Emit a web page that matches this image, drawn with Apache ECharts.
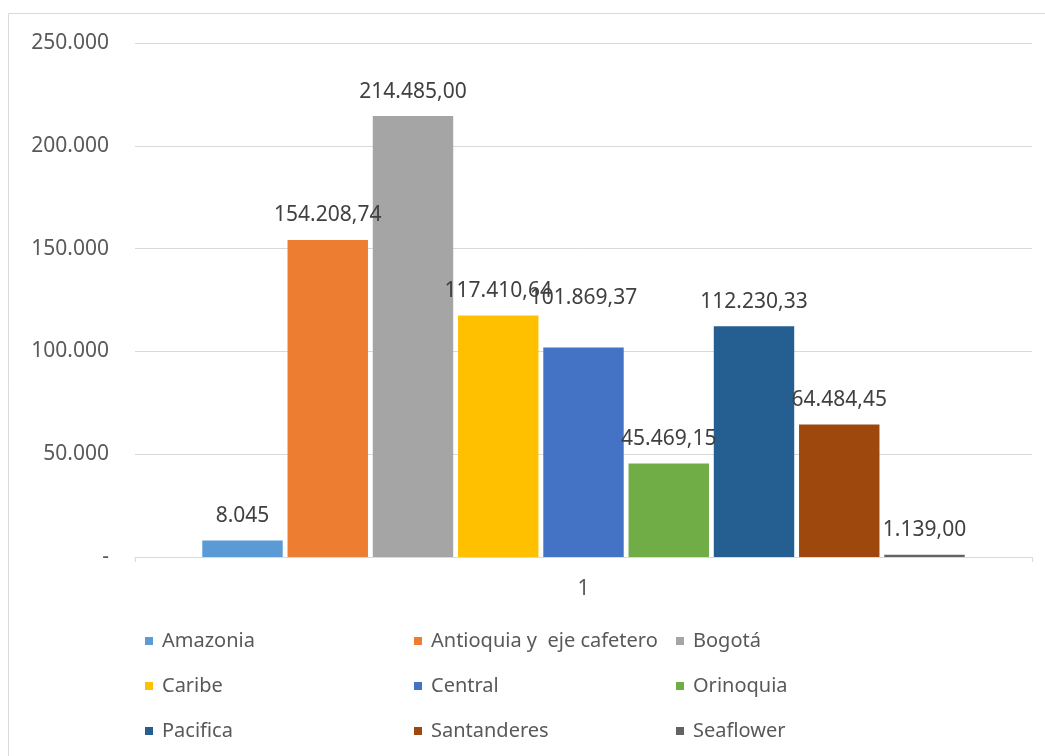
<!DOCTYPE html>
<html><head><meta charset="utf-8">
<script src="https://cdn.jsdelivr.net/npm/echarts@6/dist/echarts.min.js"></script>
<style>html,body{margin:0;padding:0;background:#fff}#c{width:1045px;height:756px}</style>
</head><body><div id="c"></div>
<script>
const categories = ['1'];
const seriesNames = ['Amazonia','Antioquia y  eje cafetero','Bogotá','Caribe','Central','Orinoquia','Pacifica','Santanderes','Seaflower'];
const seriesValues = [8045, 154208.74, 214485.00, 117410.64, 101869.37, 45469.15, 112230.33, 64484.45, 1139.00];
const labelDecimals = [0, 2, 2, 2, 2, 2, 2, 2, 2];
const labelOffsetY = [0, 0, 0, 0, -25, 0, 0, 0, 0];
const colors = ['#5B9BD5','#ED7D31','#A5A5A5','#FFC000','#4472C4','#70AD47','#255E91','#9E480E','#636363'];
const yTicks = [0, 50000, 100000, 150000, 200000, 250000];

const FONT = 'Noto Sans';
function fmt(v, d) {
  const fixed = v.toFixed(d);
  let [ip, dp] = fixed.split('.');
  ip = ip.replace(/\B(?=(\d{3})+(?!\d))/g, '.');
  return dp ? ip + ',' + dp : ip;
}

const series = seriesNames.map((n, i) => ({
  name: n, type: 'bar',
  data: [seriesValues[i]],
  itemStyle: { color: colors[i] },
  barGap: '6%', barCategoryGap: '15%',
  label: {
    show: true, position: 'top', distance: 14,
    offset: [0, labelOffsetY[i]],
    color: '#404040', fontFamily: FONT, fontSize: 21,
    formatter: () => fmt(seriesValues[i], labelDecimals[i])
  }
}));

const legendCols = [[0,3,6],[1,4,7],[2,5,8]];
const legendLeft = [145, 414, 676];
const legends = legendCols.map((col, k) => ({
  left: legendLeft[k], top: 631, orient: 'vertical', padding: 0,
  itemWidth: 8, itemHeight: 8, itemGap: 25,
  icon: 'rect',
  textStyle: { color: '#595959', fontFamily: FONT, fontSize: 20, padding: [0, 0, 0, 4] },
  data: col.map(i => seriesNames[i])
}));

const chart = echarts.init(document.getElementById('c'), null, { renderer: 'canvas' });
chart.setOption({
  animation: false,
  backgroundColor: '#fff',
  graphic: [{ type: 'rect', shape: { x: 8.5, y: 13.5, width: 1100, height: 800 }, style: { fill: 'none', stroke: '#D9D9D9', lineWidth: 1 }, silent: true }],
  legend: legends,
  grid: { left: 135, right: 13, top: 43, bottom: 199 },
  xAxis: {
    type: 'category', data: categories,
    axisLine: { lineStyle: { color: '#D9D9D9', width: 1 } },
    axisTick: { show: true, length: 5, lineStyle: { color: '#D9D9D9' } },
    axisLabel: { color: '#595959', fontFamily: FONT, fontSize: 21, margin: 22 }
  },
  yAxis: {
    type: 'value', min: 0, max: 250000, interval: 50000,
    axisLine: { show: false }, axisTick: { show: false },
    splitLine: { lineStyle: { color: '#D9D9D9', width: 1 } },
    axisLabel: { color: '#595959', fontFamily: FONT, fontSize: 21, margin: 26,
      formatter: v => v === 0 ? '-' : fmt(v, 0) }
  },
  series: series
});
</script></body></html>
